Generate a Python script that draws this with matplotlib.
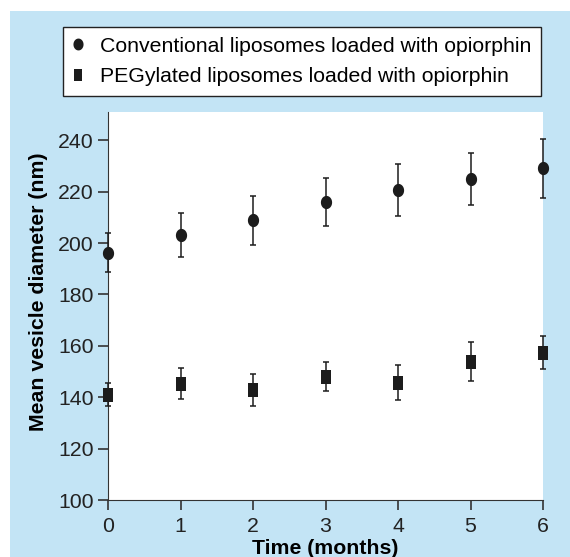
import matplotlib
matplotlib.use('Agg')
import matplotlib.pyplot as plt
import numpy as np
from matplotlib.patches import Rectangle
from matplotlib.path import Path

months = [0, 1, 2, 3, 4, 5, 6]
conv_mean = [196.3, 203.0, 208.8, 215.9, 220.8, 224.9, 229.1]
conv_err = [7.6, 8.5, 9.5, 9.4, 10.1, 10.0, 11.5]
peg_mean = [141.0, 145.3, 142.9, 148.0, 145.7, 153.9, 157.4]
peg_err = [4.5, 6.0, 6.3, 5.7, 6.8, 7.5, 6.3]
legend_labels = ['Conventional liposomes loaded with opiorphin',
                 'PEGylated liposomes loaded with opiorphin']

# slightly tall markers, like the original figure
t = np.linspace(0, 2 * np.pi, 60)
ellipse = Path(np.column_stack([0.85 * np.cos(t), np.sin(t)]), closed=True)
tall_box = Path([(-0.7, -1), (0.7, -1), (0.7, 1), (-0.7, 1), (-0.7, -1)], closed=True)

plt.rcParams['font.family'] = ['Liberation Sans', 'DejaVu Sans']
W, H = 570, 557
fig = plt.figure(figsize=(W / 100, H / 100), dpi=100, facecolor='white')
bg = '#c3e4f5'
fig.patches.append(Rectangle((10 / W, 0), 1, 1 - 11 / H, transform=fig.transFigure,
                             facecolor=bg, edgecolor='none', zorder=-5))

ax = fig.add_axes([108 / W, (H - 500) / H, (543 - 108) / W, (500 - 112) / H])
ax.set_facecolor('white')
dark = '#1c1c1c'

h1 = ax.errorbar(months, conv_mean, yerr=conv_err, fmt='none', ecolor=dark,
                 capsize=2.3, elinewidth=1.1, capthick=1.1, clip_on=False, zorder=3)
m1, = ax.plot(months, conv_mean, ls='none', marker=ellipse, ms=9.5, color=dark,
              mew=0, clip_on=False, zorder=4)
h2 = ax.errorbar(months, peg_mean, yerr=peg_err, fmt='none', ecolor=dark,
                 capsize=2.3, elinewidth=1.1, capthick=1.1, clip_on=False, zorder=3)
m2, = ax.plot(months, peg_mean, ls='none', marker=tall_box, ms=10, color=dark,
              mew=0, clip_on=False, zorder=4)
for art in (h1, h2):
    for c in art[1] + art[2]:
        c.set_clip_on(False)

ax.set_xlim(0, 6)
ax.set_ylim(100, 251)
ax.set_xticks(months)
ax.set_yticks(range(100, 241, 20))
ax.spines['top'].set_visible(False)
ax.spines['right'].set_visible(False)
ax.spines['left'].set_color('#333333')
ax.spines['bottom'].set_color('#333333')
ax.tick_params(direction='out', length=7.5, width=1.2, colors='#333333',
               labelsize=15.3, labelcolor='#222222', pad=3)
ax.tick_params(axis='x', pad=5)

ax.set_xlabel('Time (months)', fontsize=15.3, fontweight='bold', labelpad=2)
ax.set_ylabel('Mean vesicle diameter (nm)', fontsize=15.3, fontweight='bold')
ax.yaxis.set_label_coords(-0.138, 0.536)

leg = fig.legend([m1, m2], legend_labels, loc='upper left',
                 bbox_to_anchor=(63 / W, 1 - 27 / H), borderaxespad=0,
                 fontsize=15.3, frameon=True, fancybox=False, edgecolor='#222222',
                 handlelength=0.5, handletextpad=0.8, borderpad=0.45,
                 labelspacing=0.55, markerscale=0.9)
leg.get_frame().set_linewidth(1.0)
leg.get_frame().set_facecolor('white')
leg.get_frame().set_alpha(1)

fig.savefig('out.png', dpi=100, facecolor='white')
